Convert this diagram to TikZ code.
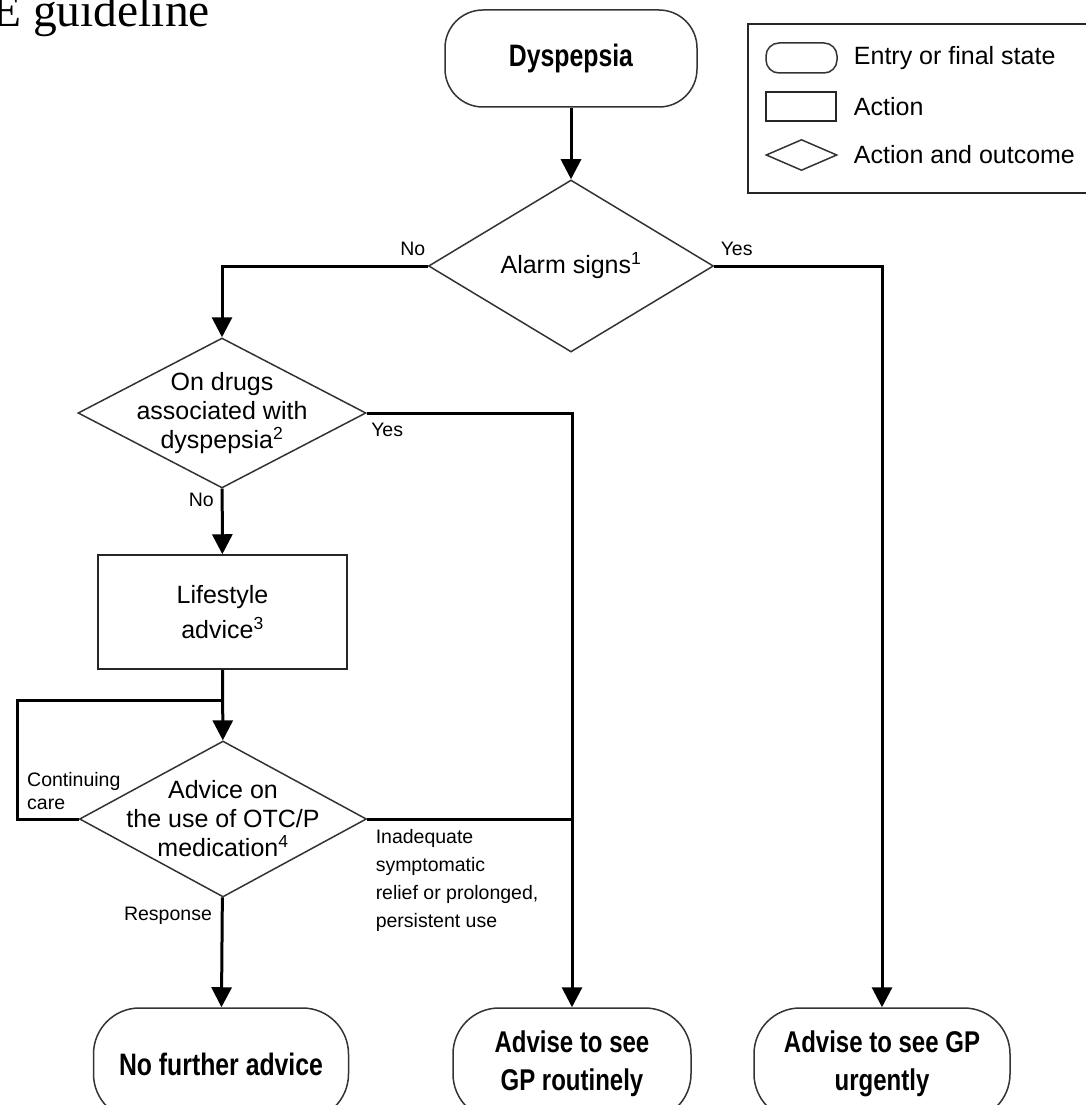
\documentclass[tikz,border=0pt]{standalone}
\usepackage{fontspec}
\setmainfont{Liberation Serif}
\newfontfamily\arialfont{Liberation Sans}
\newfontfamily\condfont[FakeStretch=0.8]{Liberation Sans}
\usetikzlibrary{arrows.meta,shapes.geometric,positioning}

\begin{document}
\begin{tikzpicture}
  [x=1pt,y=-1pt,
   every node/.style={align=center,font=\arialfont\fontsize{25}{29}\selectfont},
   terminal/.style={rectangle,rounded corners=38pt,draw=black!80,line width=1.5pt,
                    font=\condfont\bfseries\fontsize{31}{31}\selectfont},
   action/.style={rectangle,draw=black!85,line width=1.5pt},
   decision/.style={diamond,draw=black!80,line width=1.5pt,inner sep=0pt},
   flow/.style={line width=3pt,-{Triangle[width=20pt,length=20pt]}},
   link/.style={line width=3pt},
   lbl/.style={font=\arialfont\fontsize{19.5}{28}\selectfont,inner sep=0pt,align=left}]

  \useasboundingbox (0,0) rectangle (1086,1105);

  \node[font=\fontsize{47.5}{50}\selectfont,inner sep=0pt,anchor=base west] (title) at (-8,27) {E guideline};

  % legend
  \node[draw=black!85,line width=2pt,minimum width=341pt,minimum height=169pt,anchor=north west] (legend) at (747,23) {};
  \node[rectangle,rounded corners=13pt,draw=black!80,line width=1.5pt,minimum width=71pt,minimum height=30pt] (keyterm) at (801.5,58) {};
  \node[action,minimum width=70pt,minimum height=29pt] (keyact) at (801,106.5) {};
  \node[decision,minimum width=71pt,minimum height=31pt] (keydec) at (801.5,155) {};
  \node[inner sep=0pt,right=16pt of keyterm] (keytermtxt) {Entry or final state};
  \node[inner sep=0pt,right=17pt of keyact] (keyacttxt) {Action};
  \node[inner sep=0pt,right=16pt of keydec] (keydectxt) {Action and outcome};

  \node[terminal,minimum width=252pt,minimum height=97pt] (dyspepsia) at (571,58.5) {Dyspepsia};
  \node[decision,minimum width=285pt,minimum height=172pt,
        label={center:Alarm signs\textsuperscript{1}}] (alarm) at (571,266) {};
  \node[decision,minimum width=288pt,minimum height=150pt,
        label={center:On drugs\\associated with\\dyspepsia\textsuperscript{2}}] (drugs) at (222,413) {};
  \node[action,minimum width=249pt,minimum height=114pt,font=\arialfont\fontsize{25}{35}\selectfont] (lifestyle) at (222.5,612) {Lifestyle\\advice\textsuperscript{3}};
  \node[decision,minimum width=287pt,minimum height=156pt,
        label={center:Advice on\\the use of OTC/P\\medication\textsuperscript{4}}] (otc) at (223,819) {};

  \node[terminal,rounded corners=46pt,minimum width=255pt,minimum height=112pt] (nofurther) at (221,1064) {No further advice};
  \node[terminal,rounded corners=46pt,minimum width=238pt,minimum height=112pt,font=\condfont\bfseries\fontsize{30}{38}\selectfont] (routine) at (572,1064) {Advise to see\\GP routinely};
  \node[terminal,rounded corners=46pt,minimum width=256pt,minimum height=112pt,font=\condfont\bfseries\fontsize{30}{38}\selectfont] (urgent) at (882,1064) {Advise to see GP\\urgently};

  \coordinate (loop) at (17,700);

  % draw the paths and print the labels next to them
  \draw[flow] (dyspepsia) -- (alarm);
  \draw[flow] (alarm.west) -| node[lbl,pos=0,anchor=south east,xshift=-1pt,yshift=9pt]{No} (drugs.north);
  \draw[flow] (alarm.east) -| node[lbl,pos=0,anchor=south west,xshift=5pt,yshift=9pt]{Yes} (urgent.north);
  \draw[flow] (drugs.east) -| node[lbl,pos=0,anchor=north west,xshift=3pt,yshift=-9pt]{Yes} (routine.north);
  \draw[flow] (drugs) -- node[lbl,pos=0,anchor=north east,xshift=-7pt,yshift=-3pt]{No} (lifestyle);
  \draw[flow] (lifestyle) -- (otc);
  \draw[link] (otc.west) -| (loop) -- (loop -| lifestyle.south);
  \node[lbl,font=\arialfont\fontsize{19.5}{23}\selectfont,anchor=north west] (continuing) at ([xshift=10pt,yshift=-72pt]loop) {Continuing\\care};
  \draw[link] (otc.east) -- node[lbl,pos=0,anchor=north west,xshift=7pt,yshift=-9pt]{Inadequate\\symptomatic\\relief or prolonged,\\persistent use} (otc.east -| routine.north);
  \draw[flow] (otc) -- node[lbl,pos=0,anchor=north east,xshift=-9pt,yshift=-8pt]{Response} (nofurther);

\end{tikzpicture}
\end{document}
